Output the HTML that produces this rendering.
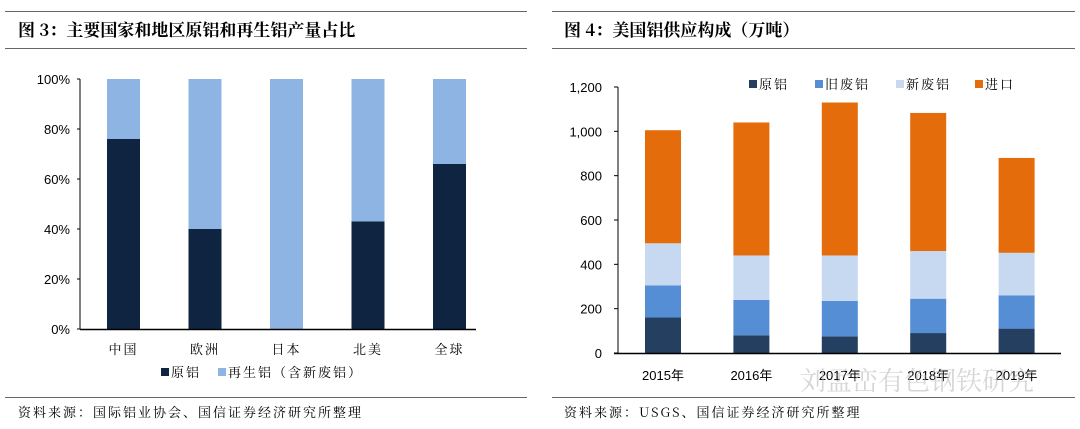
<!DOCTYPE html>
<html><head><meta charset="utf-8"><style>
body{margin:0;background:#fff;width:1080px;height:429px;overflow:hidden}
svg{display:block}
text{font-family:"Liberation Sans","Noto Sans CJK SC",sans-serif}
.cn{font-family:"Noto Serif CJK SC","Noto Sans CJK SC",serif}
.ls{letter-spacing:2px}
</style></head><body>
<svg id="s" width="1080" height="429" xmlns="http://www.w3.org/2000/svg">
<line x1="5" y1="11.5" x2="527" y2="11.5" stroke="#666"/>
<line x1="5" y1="48.5" x2="527" y2="48.5" stroke="#666"/>
<line x1="552" y1="11.5" x2="1075" y2="11.5" stroke="#666"/>
<line x1="552" y1="48.5" x2="1075" y2="48.5" stroke="#666"/>
<text x="18" y="36" font-size="17" font-weight="bold" class="cn">图 3：主要国家和地区原铝和再生铝产量占比</text>
<text x="564" y="36" font-size="17" font-weight="bold" class="cn">图 4：美国铝供应构成（万吨）</text>
<line x1="5" y1="397.5" x2="527" y2="397.5" stroke="#666"/>
<line x1="552" y1="397.5" x2="1075" y2="397.5" stroke="#666"/>
<text x="18" y="417" font-size="13" class="cn ls">资料来源：国际铝业协会、国信证券经济研究所整理</text>
<text x="564" y="417" font-size="13" class="cn ls">资料来源：USGS、国信证券经济研究所整理</text>
<g id="L"></g><g id="R"></g>
<text x="800" y="390" font-size="26" fill="#bbb" opacity="0.6" class="cn">刘孟峦有色钢铁研究</text>
</svg>
<script>
const leftCats=["中国","欧洲","日本","北美","全球"];
const leftPrimary=[0.76,0.40,0,0.43,0.66];
const leftTicks=["0%","20%","40%","60%","80%","100%"];
const rightCats=["2015年","2016年","2017年","2018年","2019年"];
const rightPrimary=[160,80,75,90,110];
const rightOldScrap=[145,160,160,155,150];
const rightNewScrap=[190,200,205,215,192];
const rightImport=[510,600,690,623,428];
const rightTicks=[0,200,400,600,800,1000,1200];
const NS="http://www.w3.org/2000/svg";
function mk(p,t,a,txt){const e=document.createElementNS(NS,t);for(const k in a)e.setAttribute(k,a[k]);if(txt!=null)e.textContent=txt;p.appendChild(e);return e;}
// left
const L=document.getElementById('L');
const ly=v=>329-v*250, lx=i=>123.5+i*81.5;
leftTicks.forEach((t,i)=>{const e=mk(L,'text',{x:70,y:ly(i*0.2)+5,'font-size':13,'text-anchor':'end'},t);


mk(L,'line',{x1:77,x2:80,y1:ly(i*0.2),y2:ly(i*0.2),stroke:'#000'});});
leftCats.forEach((c,i)=>{
const p=leftPrimary[i];
const b1=mk(L,'rect',{x:lx(i)-16.5,y:ly(1),width:33,height:(1-p)*250,fill:'#8eb4e3'});


const b2=mk(L,'rect',{x:lx(i)-16.5,y:ly(p),width:33,height:p*250,fill:'#0f2440'});


const t=mk(L,'text',{x:lx(i),y:354,'font-size':13,'text-anchor':'middle',class:'cn ls'},c);

});
mk(L,'line',{x1:80,x2:80,y1:79,y2:329,stroke:'#000'});
mk(L,'line',{x1:80,x2:476,y1:329.5,y2:329.5,stroke:'#000','stroke-width':1.5});
mk(L,'rect',{x:161,y:368,width:8,height:8,fill:'#0f2440'});
mk(L,'text',{x:171,y:377,'font-size':13,class:'cn ls'},'原铝');
mk(L,'rect',{x:218,y:368,width:8,height:8,fill:'#8eb4e3'});
mk(L,'text',{x:228,y:377,'font-size':13,class:'cn ls'},'再生铝（含新废铝）');
// right
const R=document.getElementById('R');
const ry=v=>353-v*(266/1200), rx=i=>663+i*88.4;
rightTicks.forEach(t=>{const e=mk(R,'text',{x:602,y:ry(t)+5,'font-size':13,'text-anchor':'end'},t.toLocaleString('en-US'));


mk(R,'line',{x1:614,x2:618,y1:ry(t),y2:ry(t),stroke:'#000'});});
const series=[[rightPrimary,'#243f60'],[rightOldScrap,'#558ed5'],[rightNewScrap,'#c6d9f1'],[rightImport,'#e46c0a']];
rightCats.forEach((c,i)=>{let acc=0;
series.forEach(([arr,col],k)=>{const v=arr[i];
const r=mk(R,'rect',{x:rx(i)-18,y:ry(acc+v),width:36,height:ry(acc)-ry(acc+v),fill:col});


acc+=v;});
const t=mk(R,'text',{x:rx(i),y:380,'font-size':13,'text-anchor':'middle'},c);

});
mk(R,'line',{x1:618,x2:618,y1:87,y2:353,stroke:'#000'});
mk(R,'line',{x1:614,x2:1061,y1:353.5,y2:353.5,stroke:'#000','stroke-width':1.5});
const lg=[['原铝','#243f60',749],['旧废铝','#558ed5',815],['新废铝','#c6d9f1',896],['进口','#e46c0a',975]];
lg.forEach(([n,c,x])=>{mk(R,'rect',{x:x,y:80,width:8,height:8,fill:c});
const t=mk(R,'text',{x:x+10,y:89,'font-size':13,class:'cn ls'},n);

});
</script>
</body></html>
